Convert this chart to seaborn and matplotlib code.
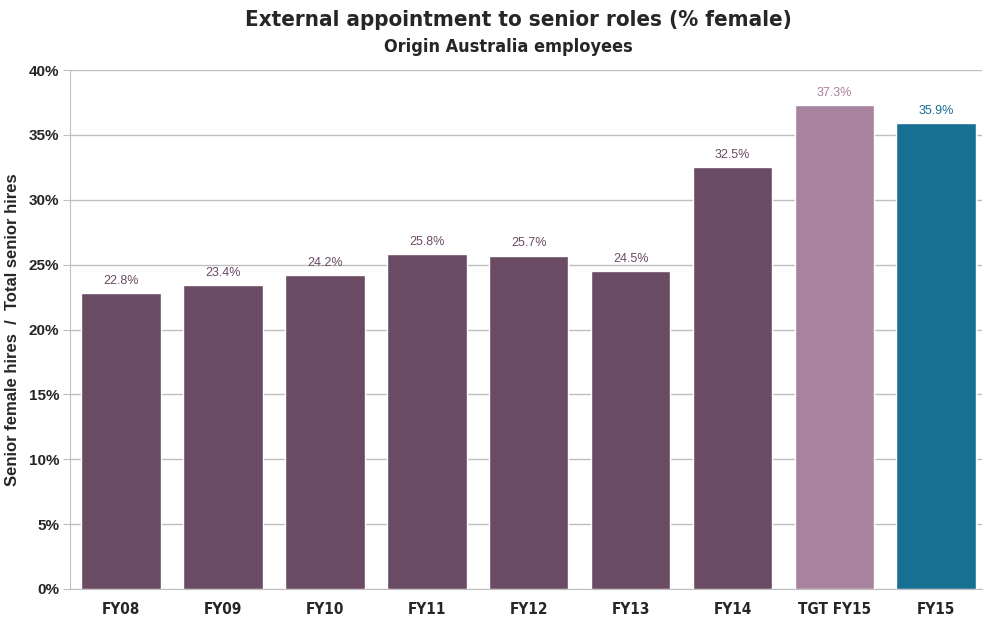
import matplotlib
matplotlib.use("Agg")
import matplotlib.pyplot as plt
import seaborn as sns
import pandas as pd
from matplotlib import font_manager

categories = ["FY08", "FY09", "FY10", "FY11", "FY12", "FY13", "FY14", "TGT FY15", "FY15"]
values = [22.8, 23.4, 24.2, 25.8, 25.7, 24.5, 32.5, 37.3, 35.9]
bar_colors = ["#6B4A63"] * 7 + ["#A8839D", "#176F92"]
label_colors = ["#6B4A63"] * 7 + ["#A8839D", "#176F92"]
y_ticks = [0, 5, 10, 15, 20, 25, 30, 35, 40]

sns.set_style("white")
plt.rcParams["font.family"] = ["Liberation Sans", "DejaVu Sans"]

names = {f.name for f in font_manager.fontManager.ttflist}
narrow = ["Liberation Sans Narrow", "DejaVu Sans"]
stretch = "normal" if "Liberation Sans Narrow" in names else "condensed"

df = pd.DataFrame({"cat": categories, "val": values})

fig = plt.figure(figsize=(9.89, 6.2), dpi=100)
ax = fig.add_axes([0.071, 0.05, 0.922, 0.837])

sns.barplot(data=df, x="cat", y="val", hue="cat", palette=bar_colors,
            width=0.78, legend=False, ax=ax, saturation=1, zorder=3)

for i, (v, c) in enumerate(zip(values, label_colors)):
    ax.text(i, v + 0.5, f"{v:.1f}%", ha="center", va="bottom",
            fontsize=9, color=c, zorder=4)

ax.set_ylim(0, 40)
ax.set_xlim(-0.5, len(categories) - 0.55)
ax.set_yticks(y_ticks)
ax.set_yticklabels([f"{t}%" for t in y_ticks], fontsize=11, fontweight="bold")
ax.yaxis.grid(True, color="#BFBFBF", linewidth=1, zorder=0)
ax.tick_params(axis="y", length=5, color="#BFBFBF", left=True, pad=3)
ax.tick_params(axis="x", length=0, pad=9)
for lbl in ax.get_xticklabels():
    lbl.set_family(narrow)
    lbl.set_stretch(stretch)
    lbl.set_fontweight("bold")
    lbl.set_fontsize(11)

for s in ["top", "right"]:
    ax.spines[s].set_visible(False)
ax.spines["left"].set_color("#BFBFBF")
ax.spines["bottom"].set_color("#BFBFBF")

ax.set_xlabel("")
ax.set_ylabel("Senior female hires  /  Total senior hires", fontsize=12,
              fontweight="bold", labelpad=6)

fig.text(0.524, 0.968, "External appointment to senior roles (% female)",
         ha="center", va="center", fontsize=16, fontweight="bold",
         family=narrow, fontstretch=stretch)
fig.text(0.514, 0.925, "Origin Australia employees",
         ha="center", va="center", fontsize=13, fontweight="bold",
         family=narrow, fontstretch=stretch)

fig.savefig("out.png", dpi=100)
